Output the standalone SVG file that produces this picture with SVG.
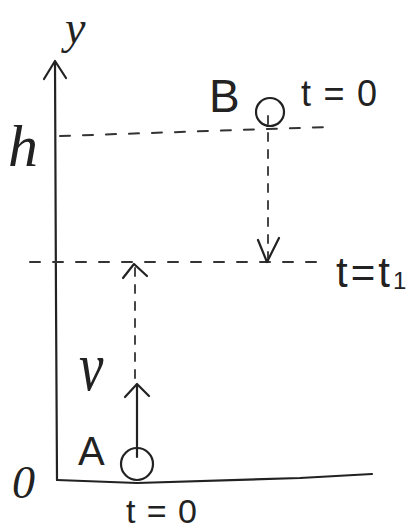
<svg xmlns="http://www.w3.org/2000/svg" width="415" height="531" viewBox="0 0 415 531">
<style>
.ln{fill:none;stroke:#222;stroke-width:2.2;stroke-linecap:round;stroke-linejoin:round}
.ds{fill:none;stroke:#333;stroke-width:2;stroke-dasharray:10 13;stroke-linecap:round}
.dv{fill:none;stroke:#333;stroke-width:1.8;stroke-dasharray:8 9;stroke-linecap:round}
.t{font-family:"Liberation Sans","DejaVu Sans",sans-serif;fill:#222}
.s{font-family:"Liberation Serif","DejaVu Serif",serif;font-style:italic;fill:#222}
</style>
<rect width="415" height="531" fill="#fff"/>
<g id="axes">
<polyline class="ln" points="57,480 56,300 55,62"/>
<polyline class="ln" points="44,79 55,61 66,78"/>
<polyline class="ln" points="57,480 137,483 300,478 372,474"/>
</g>
<g id="connectors">
<line class="ds" x1="60" y1="136" x2="328" y2="127"/>
<line class="ds" x1="30" y1="262" x2="322" y2="262"/>
<line class="dv" x1="268" y1="116" x2="268" y2="258"/>
<polyline class="ln" points="258,240 267,262 279,238"/>
<line class="dv" x1="135" y1="378" x2="135" y2="268"/>
<polyline class="ln" points="123,278 134,264 147,276"/>
<line class="ln" x1="137" y1="457" x2="137" y2="385"/>
<polyline class="ln" points="125,397 137,384 149,396"/>
</g>
<g id="labels">
<text class="s" x="65" y="43" font-size="46">y</text>
<text class="s" x="8" y="166" font-size="60">h</text>
<text class="s" x="12" y="498" font-size="46">0</text>
<text class="s" font-size="50" transform="translate(79,390) scale(1.1,1.4)">v</text>
</g>
<g id="nodeB">
<circle class="ln" cx="270" cy="112" r="14"/>
<text class="t" x="209" y="112" font-size="46">B</text>
<text class="t" x="301" y="106" font-size="36" textLength="76" lengthAdjust="spacing">t=0</text>
</g>
<g id="nodeA">
<circle class="ln" cx="137" cy="464" r="16"/>
<text class="t" x="78" y="465" font-size="40">A</text>
<text class="t" x="126" y="523" font-size="34" textLength="71" lengthAdjust="spacing">t=0</text>
</g>
<g id="t1">
<text class="t" x="336" y="287" font-size="42" letter-spacing="3">t=t<tspan font-size="24" dy="2">1</tspan></text>
</g>
</svg>
